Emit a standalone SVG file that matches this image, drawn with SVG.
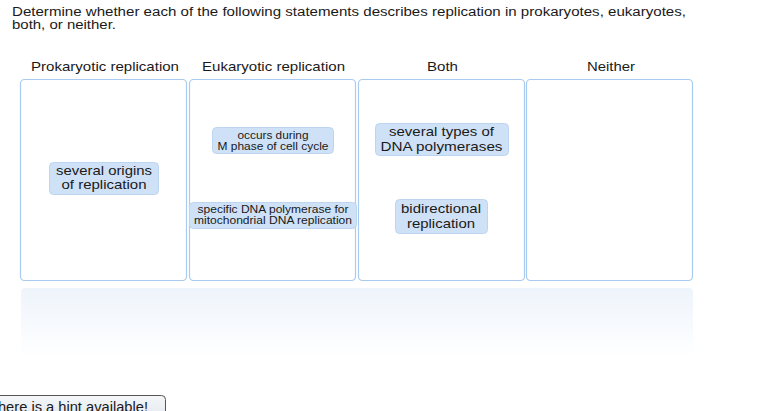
<svg xmlns="http://www.w3.org/2000/svg" width="762" height="411" viewBox="0 0 762 411">
<defs>
<linearGradient id="band" x1="0" y1="0" x2="0" y2="1">
<stop offset="0" stop-color="#eef4fb"/>
<stop offset="1" stop-color="#ffffff"/>
</linearGradient>
<linearGradient id="btn" x1="0" y1="0" x2="0" y2="1">
<stop offset="0" stop-color="#f4f6f8"/>
<stop offset="1" stop-color="#dfe5ec"/>
</linearGradient>
</defs>
<style>
text{font-family:"Liberation Sans",Arial,sans-serif;fill:#1a1a1a}
.t{font-size:12.5px}
.h{font-size:13.5px;text-anchor:middle}
.col{fill:#ffffff;stroke:#a9cbef;stroke-width:1.2}
.chip{fill:#cfe1f6;stroke:#bcd5f0;stroke-width:1}
.cl{font-size:13.5px;text-anchor:middle}
.cs{font-size:10.5px;text-anchor:middle}
</style>
<rect width="762" height="411" fill="#ffffff"/>
<text class="t" x="12" y="16" textLength="674" lengthAdjust="spacingAndGlyphs">Determine whether each of the following statements describes replication in prokaryotes, eukaryotes,</text>
<text class="t" x="12" y="29" textLength="104" lengthAdjust="spacingAndGlyphs">both, or neither.</text>
<g id="headers">
<text class="h" x="105" y="71" textLength="148" lengthAdjust="spacingAndGlyphs">Prokaryotic replication</text>
<text class="h" x="273.5" y="71" textLength="143" lengthAdjust="spacingAndGlyphs">Eukaryotic replication</text>
<text class="h" x="442.5" y="71" textLength="31" lengthAdjust="spacingAndGlyphs">Both</text>
<text class="h" x="611" y="71" textLength="48" lengthAdjust="spacingAndGlyphs">Neither</text>
</g>
<g id="col-prokaryotic"><rect class="col" x="20.5" y="79.5" width="166" height="201" rx="4"/></g>
<g id="col-eukaryotic"><rect class="col" x="189.5" y="79.5" width="166" height="201" rx="4"/></g>
<g id="col-both"><rect class="col" x="358.5" y="79.5" width="166" height="201" rx="4"/></g>
<g id="col-neither"><rect class="col" x="526.5" y="79.5" width="166" height="201" rx="4"/></g>
<g id="tray"><rect x="21" y="288" width="672" height="70" rx="4" fill="url(#band)"/></g>
<g id="connectors"></g>
<g id="chip-origins">
<rect class="chip" x="49.5" y="162.5" width="109" height="32" rx="4"/>
<text class="cl" x="104" y="175" textLength="96" lengthAdjust="spacingAndGlyphs">several origins</text>
<text class="cl" x="104" y="189" textLength="85" lengthAdjust="spacingAndGlyphs">of replication</text>
</g>
<g id="chip-mphase">
<rect class="chip" x="212.5" y="127.5" width="121" height="26" rx="4"/>
<text class="cs" x="273" y="138.5" textLength="71" lengthAdjust="spacingAndGlyphs">occurs during</text>
<text class="cs" x="273" y="149.5" textLength="111" lengthAdjust="spacingAndGlyphs">M phase of cell cycle</text>
</g>
<g id="chip-mito">
<rect class="chip" x="189.5" y="202.5" width="167" height="26" rx="4"/>
<text class="cs" x="273" y="213" textLength="151" lengthAdjust="spacingAndGlyphs">specific DNA polymerase for</text>
<text class="cs" x="273" y="224" textLength="158" lengthAdjust="spacingAndGlyphs">mitochondrial DNA replication</text>
</g>
<g id="chip-types">
<rect class="chip" x="375.5" y="123.5" width="133" height="32" rx="4"/>
<text class="cl" x="441.5" y="136" textLength="105" lengthAdjust="spacingAndGlyphs">several types of</text>
<text class="cl" x="441.5" y="151" textLength="122" lengthAdjust="spacingAndGlyphs">DNA polymerases</text>
</g>
<g id="chip-bidir">
<rect class="chip" x="395.5" y="199.5" width="92" height="34" rx="4"/>
<text class="cl" x="441" y="213" textLength="80" lengthAdjust="spacingAndGlyphs">bidirectional</text>
<text class="cl" x="441" y="228" textLength="68" lengthAdjust="spacingAndGlyphs">replication</text>
</g>
<g id="hint">
<rect x="-10.5" y="395.5" width="176" height="30" rx="4" fill="url(#btn)" stroke="#555" stroke-width="1"/>
<text x="-11" y="412" style="font-size:14px" textLength="159" lengthAdjust="spacingAndGlyphs">There is a hint available!</text>
</g>
</svg>
